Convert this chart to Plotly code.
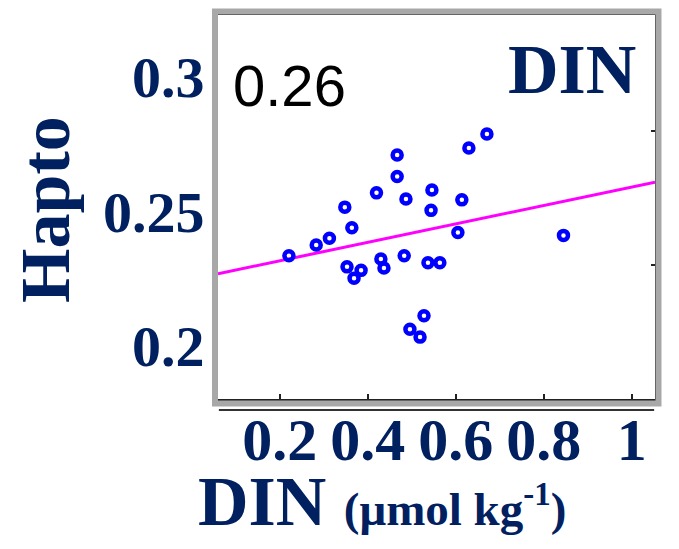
import plotly.graph_objects as go

# ---- data ----
din = [0.221, 0.283, 0.313, 0.348, 0.364, 0.353, 0.385, 0.369, 0.420, 0.430,
       0.437, 0.467, 0.467, 0.487, 0.483, 0.546, 0.544, 0.537, 0.564, 0.528,
       0.496, 0.519, 0.614, 0.605, 0.630, 0.671, 0.845]
hapto = [0.2335, 0.2375, 0.2400, 0.2516, 0.2439, 0.2294, 0.2281, 0.2252, 0.2569, 0.2323,
         0.2290, 0.2710, 0.2630, 0.2546, 0.2335, 0.2580, 0.2504, 0.2309, 0.2309, 0.2112,
         0.2062, 0.2033, 0.2543, 0.2422, 0.2736, 0.2788, 0.2411]
fit_slope = 0.03427
fit_intercept = 0.2248
r_label = "0.26"
x_ticks = [0.2, 0.4, 0.6, 0.8, 1.0]
x_ticktext = ["0.2", "0.4", "0.6", "0.8", "1"]
y_ticks = [0.2, 0.25, 0.3]
y_ticktext = ["0.2", "0.25", "0.3"]
y_minor_right = [0.23, 0.28]

x_range = [0.0598, 1.0530]
y_range = [0.1803, 0.3230]

navy = "#002060"
serif = "Liberation Serif, Times New Roman, serif"

fig = go.Figure()

fit_x = x_range
fit_y = [fit_intercept + fit_slope * v for v in fit_x]
fig.add_trace(go.Scatter(x=fit_x, y=fit_y, mode="lines",
                         line=dict(color="#FF00FF", width=3), showlegend=False))
fig.add_trace(go.Scatter(x=din, y=hapto, mode="markers",
                         marker=dict(symbol="circle-open", size=9, color="#0000FF",
                                     line=dict(width=4.5, color="#0000FF")),
                         showlegend=False))
# invisible traces for the extra axes (right-side ticks, tick-label axis)
fig.add_trace(go.Scatter(x=[None], y=[None], yaxis="y2", showlegend=False))
fig.add_trace(go.Scatter(x=[None], y=[None], xaxis="x2", showlegend=False))

fig.update_layout(
    width=679, height=549,
    margin=dict(l=218, r=24, t=15, b=150),
    paper_bgcolor="white", plot_bgcolor="white",
    xaxis=dict(range=x_range, tickvals=x_ticks, showticklabels=False,
               ticks="inside", ticklen=5, tickwidth=2, tickcolor="#222",
               showline=True, linecolor="#222", linewidth=2, mirror=True,
               showgrid=False, zeroline=False),
    xaxis2=dict(range=x_range, overlaying="x", anchor="free", position=0,
                side="bottom", tickvals=x_ticks, ticktext=x_ticktext, tickangle=0,
                ticks="", showline=False, showgrid=False, zeroline=False,
                ticklabelstandoff=0,
                tickfont=dict(family=serif, size=60, color=navy, weight="bold")),
    yaxis=dict(range=y_range, tickvals=y_ticks, ticktext=y_ticktext,
               ticks="", showline=True, linecolor="#222", linewidth=2, mirror=True,
               showgrid=False, zeroline=False, ticklabelstandoff=0,
               tickfont=dict(family=serif, size=58, color=navy, weight="bold")),
    yaxis2=dict(range=y_range, overlaying="y", side="right", tickvals=y_minor_right,
                ticks="inside", ticklen=4, tickwidth=2, tickcolor="#222",
                showticklabels=False, showgrid=False, zeroline=False, showline=False),
    shapes=[
        dict(type="rect", xref="paper", yref="paper", x0=-0.0069, x1=1.008,
             y0=-0.0117, y1=1.0091, line=dict(color="#a8a8a8", width=6)),
        dict(type="line", xref="paper", yref="paper", x0=0.002, x1=0.998,
             y0=-0.0286, y1=-0.0286, line=dict(color="#333", width=2)),
    ],
    annotations=[
        dict(text=r_label, xref="paper", yref="paper", x=0.1625, y=0.8177,
             showarrow=False, xanchor="center", yanchor="middle",
             font=dict(family="Liberation Sans Narrow, Liberation Sans, Arial, sans-serif",
                       size=58, color="black")),
        dict(text="DIN", xref="paper", yref="paper", x=0.809, y=0.859,
             showarrow=False, xanchor="center", yanchor="middle",
             font=dict(family=serif, size=70, color=navy, weight="bold")),
        dict(text="Hapto", xref="paper", yref="paper", x=-0.3936, y=0.4948,
             textangle=-90, showarrow=False, xanchor="center", yanchor="middle",
             font=dict(family=serif, size=70, color=navy, weight="bold")),
        dict(text="DIN <span style='font-size:47px'>(μmol kg<sup>-1</sup>)</span>",
             xref="paper", yref="paper", x=0.3764, y=-0.2657,
             showarrow=False, xanchor="center", yanchor="middle",
             font=dict(family=serif, size=70, color=navy, weight="bold")),
    ],
)

fig.write_html("out.html")
